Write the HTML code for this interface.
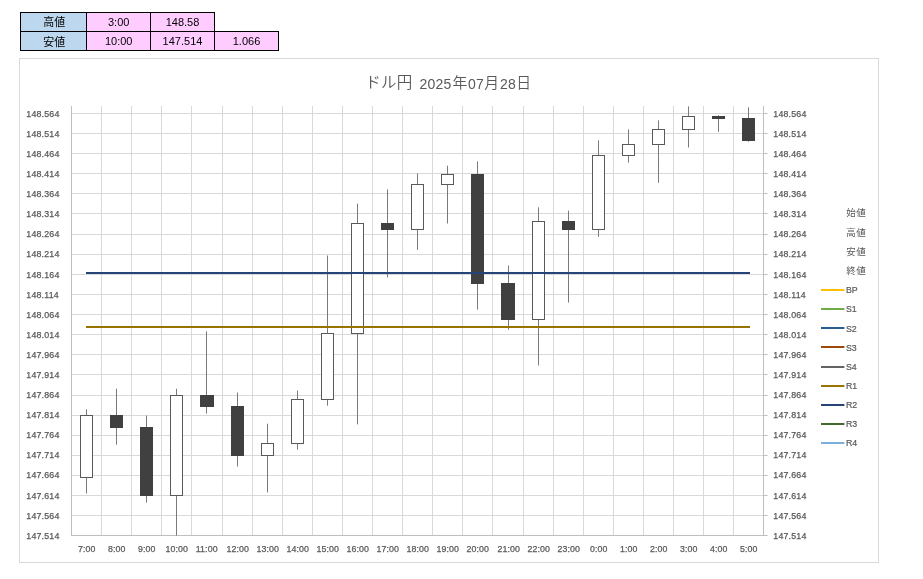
<!DOCTYPE html>
<html lang="ja"><head><meta charset="utf-8"><title>ドル円 2025年07月28日</title>
<style>html,body{margin:0;padding:0;background:#fff;}body{width:923px;height:579px;overflow:hidden;}svg{display:block;}text{font-family:"Liberation Sans", "Noto Sans CJK JP", sans-serif;}</style>
</head><body>
<svg width="923" height="579" viewBox="0 0 923 579">
<rect x="0" y="0" width="923" height="579" fill="#ffffff"/>
<g shape-rendering="crispEdges">
<rect x="20" y="12" width="67" height="39" fill="#bdd7ee"/>
<rect x="86" y="12" width="129" height="20" fill="#ffccff"/>
<rect x="86" y="31" width="193" height="20" fill="#ffccff"/>
<rect x="20" y="12" width="195" height="1" fill="#000"/>
<rect x="20" y="31" width="259" height="1" fill="#000"/>
<rect x="20" y="50" width="259" height="1" fill="#000"/>
<rect x="20" y="12" width="1" height="39" fill="#000"/>
<rect x="86" y="12" width="1" height="39" fill="#000"/>
<rect x="150" y="12" width="1" height="39" fill="#000"/>
<rect x="214" y="12" width="1" height="39" fill="#000"/>
<rect x="278" y="31" width="1" height="20" fill="#000"/>
</g>
<g font-size="11" fill="#000" text-anchor="middle">
<text x="54.3" y="26.2">高値</text>
<text x="118.7" y="26">3:00</text>
<text x="182.5" y="26">148.58</text>
<text x="54.3" y="45.5">安値</text>
<text x="118.7" y="45">10:00</text>
<text x="182.5" y="45">147.514</text>
<text x="246.5" y="45">1.066</text>
</g>
<rect x="19.5" y="58.5" width="859" height="504" fill="#fff" stroke="#d9d9d9" stroke-width="1"/>
<text y="88.4" font-size="14.8" fill="#595959" xml:space="preserve"><tspan x="365.2" font-size="15.5" letter-spacing="0.3" font-weight="350">ドル円</tspan><tspan font-size="14" y="88.8"> </tspan><tspan x="419.6" y="88.8" font-size="14" letter-spacing="0.15">2025</tspan><tspan x="452.6" y="88.4" font-weight="350">年</tspan><tspan x="467.9" y="88.8" font-size="14" letter-spacing="0.4">07</tspan><tspan x="484.2" y="88.4" font-weight="350">月</tspan><tspan x="499.9" y="88.8" font-size="14" letter-spacing="0.2">28</tspan><tspan x="516.2" y="88.4" font-weight="350">日</tspan></text>
<g shape-rendering="crispEdges">
<rect x="72" y="113" width="691" height="1" fill="#d9d9d9"/>
<rect x="72" y="133" width="691" height="1" fill="#d9d9d9"/>
<rect x="72" y="153" width="691" height="1" fill="#d9d9d9"/>
<rect x="72" y="173" width="691" height="1" fill="#d9d9d9"/>
<rect x="72" y="193" width="691" height="1" fill="#d9d9d9"/>
<rect x="72" y="213" width="691" height="1" fill="#d9d9d9"/>
<rect x="72" y="234" width="691" height="1" fill="#d9d9d9"/>
<rect x="72" y="254" width="691" height="1" fill="#d9d9d9"/>
<rect x="72" y="274" width="691" height="1" fill="#d9d9d9"/>
<rect x="72" y="294" width="691" height="1" fill="#d9d9d9"/>
<rect x="72" y="314" width="691" height="1" fill="#d9d9d9"/>
<rect x="72" y="334" width="691" height="1" fill="#d9d9d9"/>
<rect x="72" y="354" width="691" height="1" fill="#d9d9d9"/>
<rect x="72" y="374" width="691" height="1" fill="#d9d9d9"/>
<rect x="72" y="395" width="691" height="1" fill="#d9d9d9"/>
<rect x="72" y="415" width="691" height="1" fill="#d9d9d9"/>
<rect x="72" y="435" width="691" height="1" fill="#d9d9d9"/>
<rect x="72" y="455" width="691" height="1" fill="#d9d9d9"/>
<rect x="72" y="475" width="691" height="1" fill="#d9d9d9"/>
<rect x="72" y="495" width="691" height="1" fill="#d9d9d9"/>
<rect x="72" y="515" width="691" height="1" fill="#d9d9d9"/>
<rect x="101" y="106" width="1" height="429" fill="#d9d9d9"/>
<rect x="131" y="106" width="1" height="429" fill="#d9d9d9"/>
<rect x="161" y="106" width="1" height="429" fill="#d9d9d9"/>
<rect x="191" y="106" width="1" height="429" fill="#d9d9d9"/>
<rect x="222" y="106" width="1" height="429" fill="#d9d9d9"/>
<rect x="252" y="106" width="1" height="429" fill="#d9d9d9"/>
<rect x="282" y="106" width="1" height="429" fill="#d9d9d9"/>
<rect x="312" y="106" width="1" height="429" fill="#d9d9d9"/>
<rect x="342" y="106" width="1" height="429" fill="#d9d9d9"/>
<rect x="372" y="106" width="1" height="429" fill="#d9d9d9"/>
<rect x="402" y="106" width="1" height="429" fill="#d9d9d9"/>
<rect x="432" y="106" width="1" height="429" fill="#d9d9d9"/>
<rect x="462" y="106" width="1" height="429" fill="#d9d9d9"/>
<rect x="492" y="106" width="1" height="429" fill="#d9d9d9"/>
<rect x="523" y="106" width="1" height="429" fill="#d9d9d9"/>
<rect x="553" y="106" width="1" height="429" fill="#d9d9d9"/>
<rect x="583" y="106" width="1" height="429" fill="#d9d9d9"/>
<rect x="613" y="106" width="1" height="429" fill="#d9d9d9"/>
<rect x="643" y="106" width="1" height="429" fill="#d9d9d9"/>
<rect x="673" y="106" width="1" height="429" fill="#d9d9d9"/>
<rect x="703" y="106" width="1" height="429" fill="#d9d9d9"/>
<rect x="733" y="106" width="1" height="429" fill="#d9d9d9"/>
<rect x="71" y="106" width="1" height="430" fill="#bfbfbf"/>
<rect x="763" y="106" width="1" height="430" fill="#bfbfbf"/>
<rect x="71" y="535" width="693" height="1" fill="#bfbfbf"/>
</g>
<rect x="764" y="113" width="3.6" height="1" fill="#bfbfbf"/>
<rect x="764" y="133" width="3.6" height="1" fill="#bfbfbf"/>
<rect x="764" y="153" width="3.6" height="1" fill="#bfbfbf"/>
<rect x="764" y="173" width="3.6" height="1" fill="#bfbfbf"/>
<rect x="764" y="193" width="3.6" height="1" fill="#bfbfbf"/>
<rect x="764" y="213" width="3.6" height="1" fill="#bfbfbf"/>
<rect x="764" y="234" width="3.6" height="1" fill="#bfbfbf"/>
<rect x="764" y="254" width="3.6" height="1" fill="#bfbfbf"/>
<rect x="764" y="274" width="3.6" height="1" fill="#bfbfbf"/>
<rect x="764" y="294" width="3.6" height="1" fill="#bfbfbf"/>
<rect x="764" y="314" width="3.6" height="1" fill="#bfbfbf"/>
<rect x="764" y="334" width="3.6" height="1" fill="#bfbfbf"/>
<rect x="764" y="354" width="3.6" height="1" fill="#bfbfbf"/>
<rect x="764" y="374" width="3.6" height="1" fill="#bfbfbf"/>
<rect x="764" y="395" width="3.6" height="1" fill="#bfbfbf"/>
<rect x="764" y="415" width="3.6" height="1" fill="#bfbfbf"/>
<rect x="764" y="435" width="3.6" height="1" fill="#bfbfbf"/>
<rect x="764" y="455" width="3.6" height="1" fill="#bfbfbf"/>
<rect x="764" y="475" width="3.6" height="1" fill="#bfbfbf"/>
<rect x="764" y="495" width="3.6" height="1" fill="#bfbfbf"/>
<rect x="764" y="515" width="3.6" height="1" fill="#bfbfbf"/>
<rect x="764" y="535" width="3.6" height="1" fill="#bfbfbf"/>
<g>
<rect x="86" y="409.4" width="1" height="84.1" fill="#7a7a7a"/>
<rect x="116" y="388.7" width="1" height="56" fill="#7a7a7a"/>
<rect x="146" y="415.6" width="1" height="87" fill="#7a7a7a"/>
<rect x="176" y="388.7" width="1" height="146.9" fill="#7a7a7a"/>
<rect x="206" y="331.4" width="1" height="82.2" fill="#7a7a7a"/>
<rect x="237" y="392.6" width="1" height="73.9" fill="#7a7a7a"/>
<rect x="267" y="423.7" width="1" height="68.7" fill="#7a7a7a"/>
<rect x="297" y="390.5" width="1" height="59.1" fill="#7a7a7a"/>
<rect x="327" y="255.5" width="1" height="150.2" fill="#7a7a7a"/>
<rect x="357" y="203.6" width="1" height="220.8" fill="#7a7a7a"/>
<rect x="387" y="189.4" width="1" height="87.9" fill="#7a7a7a"/>
<rect x="417" y="173.5" width="1" height="76.3" fill="#7a7a7a"/>
<rect x="447" y="165.7" width="1" height="57.8" fill="#7a7a7a"/>
<rect x="477" y="161.4" width="1" height="148.2" fill="#7a7a7a"/>
<rect x="508" y="265.5" width="1" height="64.2" fill="#7a7a7a"/>
<rect x="538" y="207.3" width="1" height="158.2" fill="#7a7a7a"/>
<rect x="568" y="210.6" width="1" height="92" fill="#7a7a7a"/>
<rect x="598" y="140.4" width="1" height="96.4" fill="#7a7a7a"/>
<rect x="628" y="129.4" width="1" height="33.2" fill="#7a7a7a"/>
<rect x="658" y="120.4" width="1" height="62.4" fill="#7a7a7a"/>
<rect x="688" y="106.4" width="1" height="41.1" fill="#7a7a7a"/>
<rect x="718" y="115.4" width="1" height="16.3" fill="#7a7a7a"/>
<rect x="748" y="107.3" width="1" height="34.4" fill="#7a7a7a"/>
</g>
<g shape-rendering="crispEdges">
<rect x="80.5" y="415.5" width="12" height="62" fill="#fff" stroke="#595959" stroke-width="1"/>
<rect x="110" y="415" width="13" height="13" fill="#404040"/>
<rect x="140" y="427" width="13" height="69" fill="#404040"/>
<rect x="170.5" y="395.5" width="12" height="100" fill="#fff" stroke="#595959" stroke-width="1"/>
<rect x="200" y="395" width="14" height="12" fill="#404040"/>
<rect x="231" y="406" width="13" height="50" fill="#404040"/>
<rect x="261.5" y="443.5" width="12" height="12" fill="#fff" stroke="#595959" stroke-width="1"/>
<rect x="291.5" y="399.5" width="12" height="44" fill="#fff" stroke="#595959" stroke-width="1"/>
<rect x="321.5" y="333.5" width="12" height="66" fill="#fff" stroke="#595959" stroke-width="1"/>
<rect x="351.5" y="223.5" width="12" height="110" fill="#fff" stroke="#595959" stroke-width="1"/>
<rect x="381" y="223" width="13" height="7" fill="#404040"/>
<rect x="411.5" y="184.5" width="12" height="45" fill="#fff" stroke="#595959" stroke-width="1"/>
<rect x="441.5" y="174.5" width="12" height="10" fill="#fff" stroke="#595959" stroke-width="1"/>
<rect x="471" y="174" width="13" height="110" fill="#404040"/>
<rect x="501" y="283" width="14" height="37" fill="#404040"/>
<rect x="532.5" y="221.5" width="12" height="98" fill="#fff" stroke="#595959" stroke-width="1"/>
<rect x="562" y="221" width="13" height="9" fill="#404040"/>
<rect x="592.5" y="155.5" width="12" height="74" fill="#fff" stroke="#595959" stroke-width="1"/>
<rect x="622.5" y="144.5" width="12" height="11" fill="#fff" stroke="#595959" stroke-width="1"/>
<rect x="652.5" y="129.5" width="12" height="15" fill="#fff" stroke="#595959" stroke-width="1"/>
<rect x="682.5" y="116.5" width="12" height="13" fill="#fff" stroke="#595959" stroke-width="1"/>
<rect x="712" y="116" width="13" height="3" fill="#404040"/>
<rect x="742" y="118" width="13" height="23" fill="#404040"/>
</g>
<g shape-rendering="crispEdges">
<rect x="86" y="272" width="664" height="2" fill="#264478"/>
<rect x="86" y="326" width="664" height="2" fill="#997300"/>
</g>
<g font-size="8.8" fill="#595959" stroke="#595959" stroke-width="0.25" letter-spacing="0.2">
<text x="26.3" y="116.7">148.564</text>
<text x="773.3" y="116.7">148.564</text>
<text x="26.3" y="136.8">148.514</text>
<text x="773.3" y="136.8">148.514</text>
<text x="26.3" y="156.9">148.464</text>
<text x="773.3" y="156.9">148.464</text>
<text x="26.3" y="177">148.414</text>
<text x="773.3" y="177">148.414</text>
<text x="26.3" y="197.1">148.364</text>
<text x="773.3" y="197.1">148.364</text>
<text x="26.3" y="217.2">148.314</text>
<text x="773.3" y="217.2">148.314</text>
<text x="26.3" y="237.3">148.264</text>
<text x="773.3" y="237.3">148.264</text>
<text x="26.3" y="257.4">148.214</text>
<text x="773.3" y="257.4">148.214</text>
<text x="26.3" y="277.5">148.164</text>
<text x="773.3" y="277.5">148.164</text>
<text x="26.3" y="297.6">148.114</text>
<text x="773.3" y="297.6">148.114</text>
<text x="26.3" y="317.7">148.064</text>
<text x="773.3" y="317.7">148.064</text>
<text x="26.3" y="337.7">148.014</text>
<text x="773.3" y="337.7">148.014</text>
<text x="26.3" y="357.8">147.964</text>
<text x="773.3" y="357.8">147.964</text>
<text x="26.3" y="377.9">147.914</text>
<text x="773.3" y="377.9">147.914</text>
<text x="26.3" y="398">147.864</text>
<text x="773.3" y="398">147.864</text>
<text x="26.3" y="418.1">147.814</text>
<text x="773.3" y="418.1">147.814</text>
<text x="26.3" y="438.2">147.764</text>
<text x="773.3" y="438.2">147.764</text>
<text x="26.3" y="458.3">147.714</text>
<text x="773.3" y="458.3">147.714</text>
<text x="26.3" y="478.4">147.664</text>
<text x="773.3" y="478.4">147.664</text>
<text x="26.3" y="498.5">147.614</text>
<text x="773.3" y="498.5">147.614</text>
<text x="26.3" y="518.6">147.564</text>
<text x="773.3" y="518.6">147.564</text>
<text x="26.3" y="538.7">147.514</text>
<text x="773.3" y="538.7">147.514</text>
</g>
<g font-size="8.8" fill="#595959" stroke="#595959" stroke-width="0.25" letter-spacing="0.12" text-anchor="middle">
<text x="86.7" y="552.3">7:00</text>
<text x="116.7" y="552.3">8:00</text>
<text x="146.7" y="552.3">9:00</text>
<text x="176.7" y="552.3">10:00</text>
<text x="206.7" y="552.3">11:00</text>
<text x="237.7" y="552.3">12:00</text>
<text x="267.7" y="552.3">13:00</text>
<text x="297.7" y="552.3">14:00</text>
<text x="327.7" y="552.3">15:00</text>
<text x="357.7" y="552.3">16:00</text>
<text x="387.7" y="552.3">17:00</text>
<text x="417.7" y="552.3">18:00</text>
<text x="447.7" y="552.3">19:00</text>
<text x="477.7" y="552.3">20:00</text>
<text x="508.7" y="552.3">21:00</text>
<text x="538.7" y="552.3">22:00</text>
<text x="568.7" y="552.3">23:00</text>
<text x="598.7" y="552.3">0:00</text>
<text x="628.7" y="552.3">1:00</text>
<text x="658.7" y="552.3">2:00</text>
<text x="688.7" y="552.3">3:00</text>
<text x="718.7" y="552.3">4:00</text>
<text x="748.7" y="552.3">5:00</text>
</g>
<g font-size="9.5" fill="#595959" letter-spacing="0.5">
<text x="846.2" y="216.2">始値</text>
<text x="846.2" y="236.2">高値</text>
<text x="846.2" y="255.2">安値</text>
<text x="846.2" y="274.2">終値</text>
</g>
<g font-size="8.8" fill="#595959" stroke="#595959" stroke-width="0.2">
<rect x="821" y="289" width="23.4" height="2" fill="#ffc000" stroke="none"/>
<text x="846" y="293.2">BP</text>
<rect x="821" y="308" width="23.4" height="2" fill="#70ad47" stroke="none"/>
<text x="846" y="312.2">S1</text>
<rect x="821" y="327" width="23.4" height="2" fill="#255e91" stroke="none"/>
<text x="846" y="331.7">S2</text>
<rect x="821" y="346" width="23.4" height="2" fill="#9e480e" stroke="none"/>
<text x="846" y="350.7">S3</text>
<rect x="821" y="366" width="23.4" height="2" fill="#636363" stroke="none"/>
<text x="846" y="370.2">S4</text>
<rect x="821" y="385" width="23.4" height="2" fill="#997300" stroke="none"/>
<text x="846" y="389.2">R1</text>
<rect x="821" y="404" width="23.4" height="2" fill="#264478" stroke="none"/>
<text x="846" y="408.2">R2</text>
<rect x="821" y="423" width="23.4" height="2" fill="#43682b" stroke="none"/>
<text x="846" y="427.2">R3</text>
<rect x="821" y="442" width="23.4" height="2" fill="#7cafdd" stroke="none"/>
<text x="846" y="446.2">R4</text>
</g>
</svg>
</body></html>
